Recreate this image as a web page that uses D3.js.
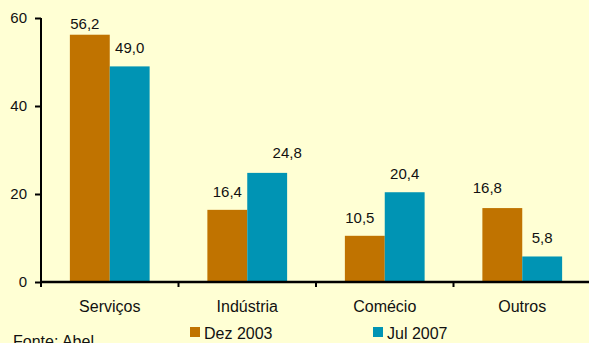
<!DOCTYPE html>
<html><head><meta charset="utf-8">
<script src="https://cdn.jsdelivr.net/npm/d3@7"></script>
<style>html,body{margin:0;padding:0;background:#FFFFD4;}svg{display:block;}</style>
</head><body>
<svg id="c" width="589" height="343"></svg>
<script>
const categories = ["Serviços", "Indústria", "Comécio", "Outros"];
const seriesNames = ["Dez 2003", "Jul 2007"];
const dez2003 = [56.2, 16.4, 10.5, 16.8];
const jul2007 = [49.0, 24.8, 20.4, 5.8];
const yTicks = [0, 20, 40, 60];
const colors = ["#C07300", "#0094B4"];
// label nudges (layout only): [dx, dy] per series per category
const nudgeDez = [[-5, 7], [0, 0], [-5, 0], [-15, -2]];
const nudgeJul = [[0, 0], [20, -2], [0, 0], [0, 0]];

const svg = d3.select("#c");
const W = 589, H = 343;
svg.append("rect").attr("width", W).attr("height", H).attr("fill", "#FFFFD4");

const x0 = d3.scaleBand().domain(categories).range([41, 591]).paddingInner(0.42).paddingOuter(0.21);
const x1 = d3.scaleBand().domain(seriesNames).range([0, x0.bandwidth()]);
const y = d3.scaleLinear().domain([0, 60]).range([282, 18]);

const data = categories.map((c, i) => ({cat: c, vals: [
  {s: seriesNames[0], v: dez2003[i], n: nudgeDez[i], k: 0},
  {s: seriesNames[1], v: jul2007[i], n: nudgeJul[i], k: 1}
]}));

const g = svg.append("g");
const groups = g.selectAll("g.cat").data(data).join("g")
  .attr("transform", d => `translate(${x0(d.cat)},0)`);
groups.selectAll("rect").data(d => d.vals).join("rect")
  .attr("x", d => x1(d.s)).attr("width", x1.bandwidth())
  .attr("y", d => y(d.v)).attr("height", d => y(0) - y(d.v))
  .attr("fill", d => colors[d.k]);
groups.selectAll("text").data(d => d.vals).join("text")
  .attr("x", d => x1(d.s) + x1.bandwidth() / 2 + d.n[0])
  .attr("y", d => y(d.v) - 13 + d.n[1])
  .attr("text-anchor", "middle")
  .attr("font-family", "Liberation Sans, Arial, sans-serif")
  .attr("font-size", 15).attr("fill", "#111")
  .text(d => d.v.toFixed(1).replace(".", ","));

// y axis
const yAxis = d3.axisLeft(y).tickValues(yTicks).tickSize(6).tickPadding(8).tickFormat(d3.format("d"));
const ya = svg.append("g").attr("transform", "translate(41,0)").call(yAxis);
ya.select(".domain").remove();
ya.selectAll(".tick line").attr("stroke", "#000").attr("stroke-width", 2);
ya.selectAll(".tick text").attr("font-family", "Liberation Sans, Arial, sans-serif").attr("font-size", 15).attr("fill", "#111");
svg.append("line").attr("x1", 41).attr("x2", 41).attr("y1", y(60)).attr("y2", 287)
  .attr("stroke", "#000").attr("stroke-width", 2);

// x axis
const step = x0.step();
svg.append("line").attr("x1", 41).attr("x2", 589).attr("y1", y(0)).attr("y2", y(0))
  .attr("stroke", "#000").attr("stroke-width", 2.5);
svg.selectAll("line.xt").data(d3.range(1, categories.length)).join("line").attr("class", "xt")
  .attr("x1", i => 41 + i * step).attr("x2", i => 41 + i * step)
  .attr("y1", y(0)).attr("y2", y(0) + 5).attr("stroke", "#000").attr("stroke-width", 2);
svg.selectAll("text.xl").data(categories).join("text").attr("class", "xl")
  .attr("x", d => x0(d) + x0.bandwidth() / 2).attr("y", 312)
  .attr("text-anchor", "middle")
  .attr("font-family", "Liberation Sans, Arial, sans-serif")
  .attr("font-size", 16).attr("fill", "#111").text(d => d);

// legend
const legX = [190, 373];
seriesNames.forEach((s, i) => {
  svg.append("rect").attr("x", legX[i]).attr("y", 327).attr("width", 10).attr("height", 10).attr("fill", colors[i]);
  svg.append("text").attr("x", legX[i] + 14).attr("y", 339)
    .attr("font-family", "Liberation Sans, Arial, sans-serif")
    .attr("font-size", 16).attr("fill", "#111").text(s);
});

// source
svg.append("text").attr("x", 13).attr("y", 347)
  .attr("font-family", "Liberation Sans, Arial, sans-serif")
  .attr("font-size", 16).attr("fill", "#111").text("Fonte: Abel");
</script>
</body></html>
